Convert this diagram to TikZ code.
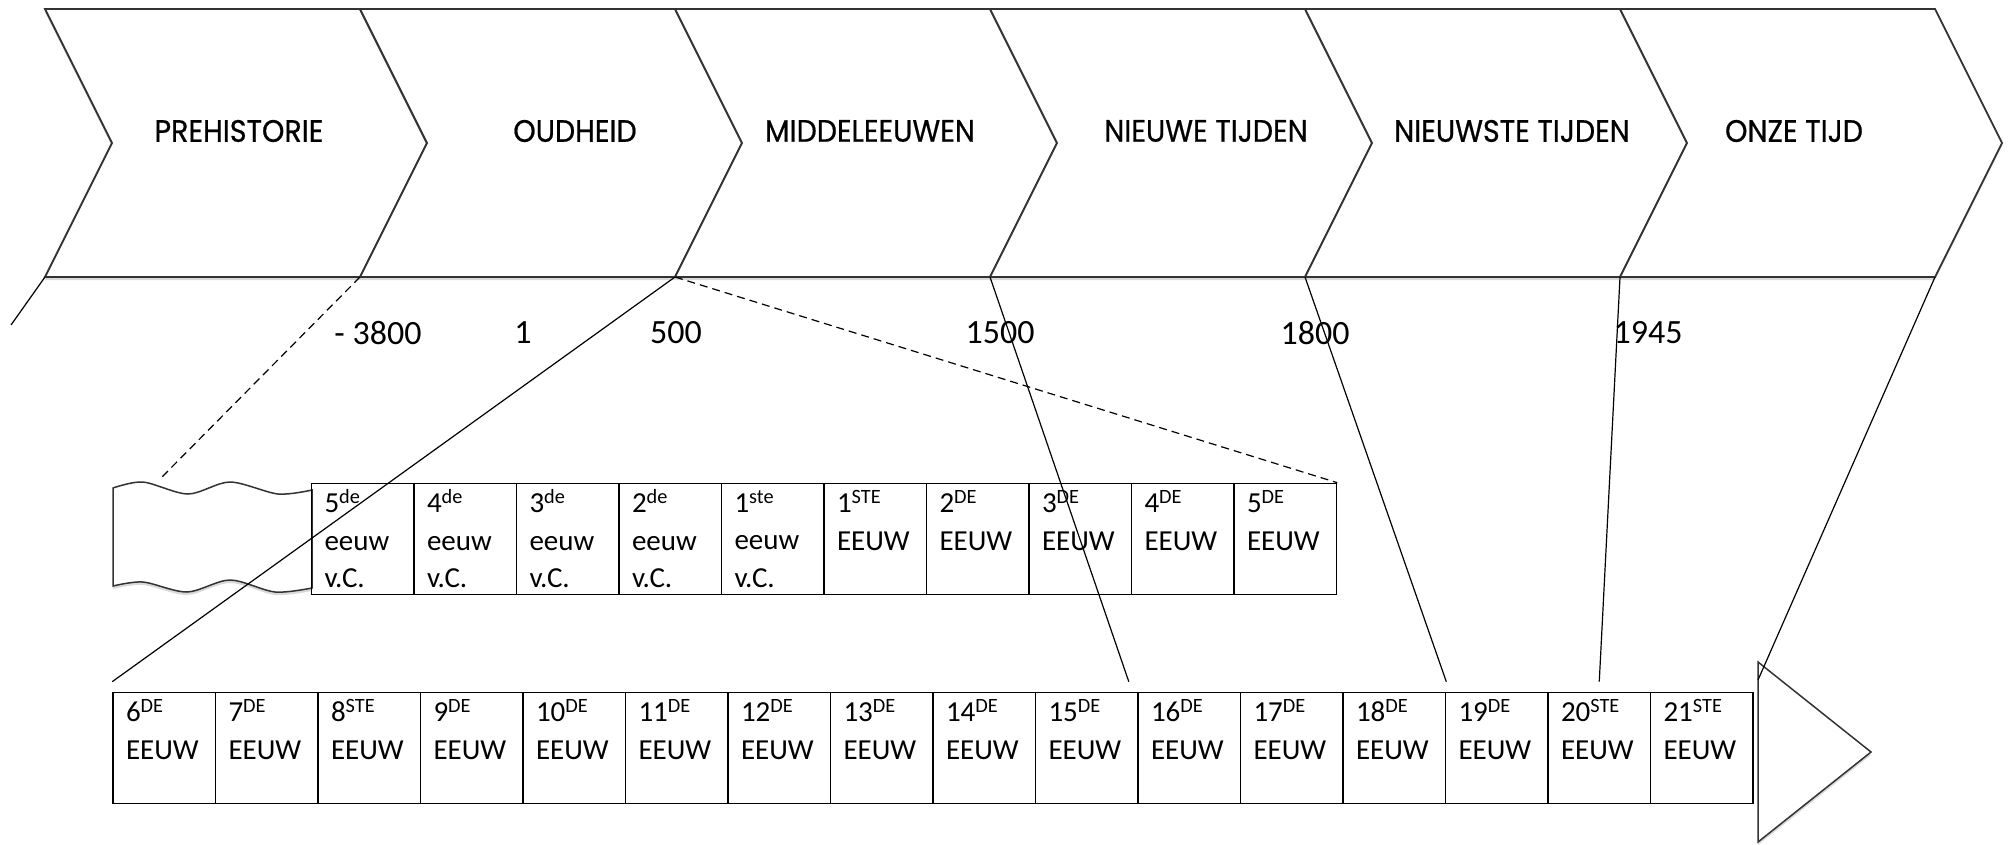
\documentclass[tikz,border=0pt]{standalone}
\usepackage{fontspec}
\setmainfont{Carlito}
\newfontfamily\erafont[FakeBold=0.6, FakeStretch=0.92]{Poppins}
\usepackage{tikz}
\usetikzlibrary{positioning, calc, shadows}
\tikzset{
x=1pt, y=1pt, % one unit is one pixel of the layout
node distance=102.5pt, % width of one century cell, used by right of
band/.style={draw=black!80, line width=1.8pt, fill=white, line join=miter,
  drop shadow={shadow xshift=0pt, shadow yshift=-3pt, opacity=.3}}, % chevrons, torn strip and end arrow
era/.style={font=\erafont\fontsize{31}{33}\selectfont}, % names of the periods
year/.style={font=\fontsize{34}{40}\selectfont}, % years under the chevrons
century/.style={draw, line width=1.6pt, minimum width=102.5pt, minimum height=111pt,
  inner xsep=13pt, inner ysep=0pt, text width=76.5pt, align=left,
  font=\fontsize{29}{37.5}\selectfont}, % one cell of a table
link/.style={line width=1.2pt}, % lines from a year to the tables
zoomlink/.style={link, dashed, dash pattern=on 8pt off 5pt}, % the dashed zoom lines
}

\begin{document}
\begin{tikzpicture}
\useasboundingbox (0,0) rectangle (2010,-844);

% foot of every chevron border
\coordinate (b0) at (45,-277);
\coordinate (b1) at (360,-277);
\coordinate (b2) at (675,-277);
\coordinate (b3) at (990,-277);
\coordinate (b4) at (1305,-277);
\coordinate (b5) at (1620,-277);
\coordinate (b6) at (1935,-277);

\draw[band] (b0) -- (b1) -- ++(67,134) -- ++(-67,134) -- ++(-315,0) -- ++(67,-134) -- cycle;
\draw[band] (b1) -- (b2) -- ++(67,134) -- ++(-67,134) -- ++(-315,0) -- ++(67,-134) -- cycle;
\draw[band] (b2) -- (b3) -- ++(67,134) -- ++(-67,134) -- ++(-315,0) -- ++(67,-134) -- cycle;
\draw[band] (b3) -- (b4) -- ++(67,134) -- ++(-67,134) -- ++(-315,0) -- ++(67,-134) -- cycle;
\draw[band] (b4) -- (b5) -- ++(67,134) -- ++(-67,134) -- ++(-315,0) -- ++(67,-134) -- cycle;
\draw[band] (b5) -- (b6) -- ++(67,134) -- ++(-67,134) -- ++(-315,0) -- ++(67,-134) -- cycle;

\node[era] (prehistorie) at (239,-131) {PREHISTORIE};
\node[era] (oudheid) at (575,-131) {OUDHEID};
\node[era] (middeleeuwen) at (870,-131) {MIDDELEEUWEN};
\node[era] (nieuwe) at (1206,-131) {NIEUWE TIJDEN};
\node[era] (nieuwste) at (1512,-131) {NIEUWSTE TIJDEN};
\node[era] (onze) at (1794,-131) {ONZE TIJD};

\node[year] (y3800) at (378,-333) {- 3800};
\node[year] (y1) at (523,-333) {1};
\node[year] (y500) at (676,-333) {500};
\node[year] (y1500) at (1000,-333) {1500};
\node[year] (y1800) at (1315,-333) {1800};
\node[year] (y1945) at (1648,-333) {1945};

% upper table, before and after Christ
\draw[band, line width=1.5pt] plot[smooth] coordinates {(113,-488) (143,-482) (188,-494) (230,-482) (278,-494) (312,-490)}
  -- plot[smooth] coordinates {(312,-588) (275,-592) (230,-580) (187,-592) (143,-582) (113,-586)} -- cycle;
\node[century] (v5) at (362.75,-539) {5\textsuperscript{de}\\eeuw\\v.C.};
\node[century, right of=v5] (v4) {4\textsuperscript{de}\\eeuw\\v.C.};
\node[century, right of=v4] (v3) {3\textsuperscript{de}\\eeuw\\v.C.};
\node[century, right of=v3] (v2) {2\textsuperscript{de}\\eeuw\\v.C.};
\node[century, right of=v2] (v1) {1\textsuperscript{ste}\\eeuw\\v.C.};
\node[century, right of=v1] (a1) {1\textsuperscript{STE}\\EEUW\\\mbox{}};
\node[century, right of=a1] (a2) {2\textsuperscript{DE}\\EEUW\\\mbox{}};
\node[century, right of=a2] (a3) {3\textsuperscript{DE}\\EEUW\\\mbox{}};
\node[century, right of=a3] (a4) {4\textsuperscript{DE}\\EEUW\\\mbox{}};
\node[century, right of=a4] (a5) {5\textsuperscript{DE}\\EEUW\\\mbox{}};

% lower table
\node[century] (a6) at (164.25,-748) {6\textsuperscript{DE}\\EEUW\\\mbox{}};
\node[century, right of=a6] (a7) {7\textsuperscript{DE}\\EEUW\\\mbox{}};
\node[century, right of=a7] (a8) {8\textsuperscript{STE}\\EEUW\\\mbox{}};
\node[century, right of=a8] (a9) {9\textsuperscript{DE}\\EEUW\\\mbox{}};
\node[century, right of=a9] (a10) {10\textsuperscript{DE}\\EEUW\\\mbox{}};
\node[century, right of=a10] (a11) {11\textsuperscript{DE}\\EEUW\\\mbox{}};
\node[century, right of=a11] (a12) {12\textsuperscript{DE}\\EEUW\\\mbox{}};
\node[century, right of=a12] (a13) {13\textsuperscript{DE}\\EEUW\\\mbox{}};
\node[century, right of=a13] (a14) {14\textsuperscript{DE}\\EEUW\\\mbox{}};
\node[century, right of=a14] (a15) {15\textsuperscript{DE}\\EEUW\\\mbox{}};
\node[century, right of=a15] (a16) {16\textsuperscript{DE}\\EEUW\\\mbox{}};
\node[century, right of=a16] (a17) {17\textsuperscript{DE}\\EEUW\\\mbox{}};
\node[century, right of=a17] (a18) {18\textsuperscript{DE}\\EEUW\\\mbox{}};
\node[century, right of=a18] (a19) {19\textsuperscript{DE}\\EEUW\\\mbox{}};
\node[century, right of=a19] (a20) {20\textsuperscript{STE}\\EEUW\\\mbox{}};
\node[century, right of=a20] (a21) {21\textsuperscript{STE}\\EEUW\\\mbox{}};

% end arrow
\coordinate (arrtop) at (1758,-662);
\coordinate (arrtip) at (1871,-752);
\coordinate (arrbot) at (1758,-842);
\draw[band, line width=1.5pt] (arrtop) -- (arrtip) -- (arrbot) -- cycle;

% links from the years
\coordinate (lead) at (11,-325);
\coordinate (tornend) at (160,-479);
\draw[link] (b0) -- (lead);
\draw[zoomlink] (b1) -- (tornend);
\draw[link] (b2) -- ([yshift=10pt]a6.north west);
\draw[zoomlink] (b2) -- (a5.north east);
\draw[link] (b3) -- ([shift={(-10pt,10pt)}]a15.north east);
\draw[link] (b4) -- ([yshift=10pt]a18.north east);
\draw[link] (b5) -- ([yshift=10pt]a20.north);
\draw[link] (b6) -- ($(arrtop)!0.1!(arrbot)$);
\end{tikzpicture}
\end{document}
